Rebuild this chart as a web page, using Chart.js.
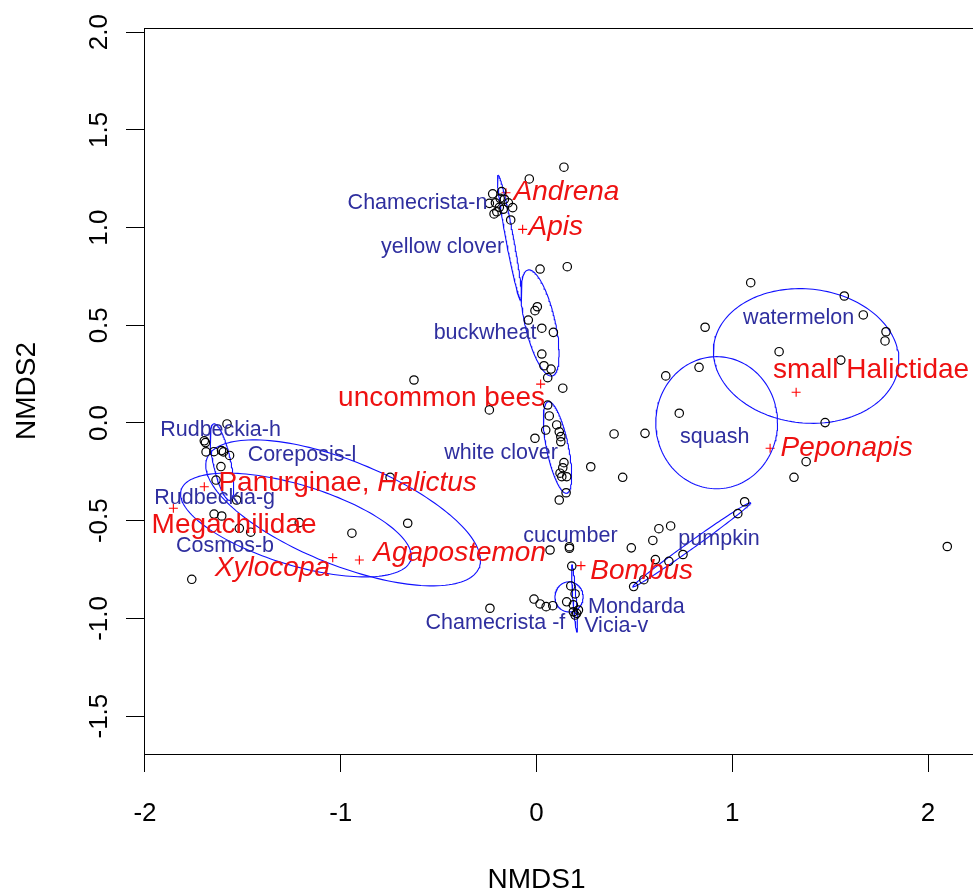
<!DOCTYPE html>
<html>
<head>
<meta charset="utf-8">
<script src="https://cdn.jsdelivr.net/npm/chart.js@4.4.1/dist/chart.umd.min.js"></script>
<style>
  html, body { margin: 0; padding: 0; overflow: hidden; background: #fff; width: 973px; height: 895px; }
  #wrap { width: 990px; height: 895px; }
</style>
</head>
<body>
<div id="wrap"><canvas id="c" width="990" height="895"></canvas></div>
<script>
// NMDS site scores (open circles)
const siteX = [0.140, -0.037, -0.224, -0.241, -0.210, -0.178, -0.186, -0.164, -0.144, -0.122, -0.203, -0.217, -0.190, -0.170, -0.132,
  0.018, 0.157, 0.004, -0.008, -0.042, 0.027, 0.086, 0.027, 0.038, 0.074, 0.057, 0.134, -0.241, -0.626,
  0.057, 0.065, 0.047, 0.103, 0.116, 0.124, 0.124, -0.008, 0.140, 0.134, 0.120, 0.154, 0.129, 0.277, 0.151, 0.116, 0.396, 0.554, 0.440,
  -1.581, -1.697, -1.691, -1.688, -1.648, -1.609, -1.599, -1.568, -1.612, -1.637, -1.532, -1.647, -1.608, -1.518, -1.460, -1.212, -0.943, -1.761, -0.748, -0.658,
  0.069, 0.168, 0.168, 0.180, 0.175, 0.197, -0.013, 0.018, 0.049, 0.083, 0.154, 0.188, -0.238, 0.188, 0.205, 0.214, 0.197,
  1.063, 1.028, 0.685, 0.625, 0.594, 0.484, 0.607, 0.676, 0.748, 0.548, 0.496, 2.098,
  1.094, 1.572, 1.669, 1.785, 1.780, 0.861, 1.239, 1.554, 0.830, 0.660, 0.729, 1.474, 1.377, 1.315];
const siteY = [1.309, 1.249, 1.173, 1.124, 1.127, 1.184, 1.150, 1.145, 1.127, 1.102, 1.081, 1.070, 1.104, 1.094, 1.039,
  0.788, 0.800, 0.595, 0.575, 0.527, 0.485, 0.464, 0.353, 0.293, 0.276, 0.232, 0.178, 0.067, 0.220,
  0.092, 0.036, -0.036, -0.010, -0.045, -0.070, -0.096, -0.078, -0.203, -0.229, -0.257, -0.275, -0.275, -0.224, -0.357, -0.394, -0.056, -0.053, -0.278,
  -0.005, -0.091, -0.100, -0.148, -0.147, -0.141, -0.148, -0.166, -0.223, -0.292, -0.394, -0.466, -0.476, -0.539, -0.559, -0.510, -0.564, -0.800, -0.278, -0.513,
  -0.650, -0.633, -0.641, -0.732, -0.834, -0.875, -0.901, -0.926, -0.940, -0.935, -0.915, -0.931, -0.948, -0.966, -0.974, -0.957, -0.983,
  -0.403, -0.464, -0.527, -0.541, -0.601, -0.639, -0.699, -0.708, -0.673, -0.802, -0.837, -0.632,
  0.718, 0.650, 0.553, 0.467, 0.420, 0.490, 0.365, 0.322, 0.285, 0.241, 0.050, 0.002, -0.198, -0.278];

// Bee group scores (red crosses) and where their names sit
const beeNames = ['Andrena', 'Apis', 'uncommon bees', 'small Halictidae', 'Peponapis', 'Panurginae, Halictus', 'Megachilidae', 'Xylocopa', 'Agapostemon', 'Bombus'];
const beeX = [-0.156, -0.071, 0.021, 1.326, 1.193, -1.697, -1.855, -1.041, -0.905, 0.227];
const beeY = [1.178, 0.991, 0.199, 0.157, -0.129, -0.326, -0.436, -0.689, -0.701, -0.730];
const beeLabelX = [0.153, 0.098, -0.485, 1.709, 1.584, -0.965, -1.545, -1.349, -0.393, 0.537];
const beeLabelY = [1.183, 1.001, 0.128, 0.271, -0.129, -0.306, -0.522, -0.744, -0.666, -0.760];

// Plant names
const plantNames = ['Chamecrista-n', 'yellow clover', 'buckwheat', 'white clover', 'Rudbeckia-h', 'Coreposis-l', 'Rudbeckia-g', 'Cosmos-b', 'cucumber', 'Chamecrista -f', 'Mondarda', 'Vicia-v', 'pumpkin', 'squash', 'watermelon'];
const plantLabelX = [-0.608, -0.480, -0.263, -0.181, -1.614, -1.198, -1.644, -1.591, 0.173, -0.210, 0.510, 0.407, 0.932, 0.910, 1.339];
const plantLabelY = [1.125, 0.898, 0.462, -0.155, -0.036, -0.164, -0.385, -0.632, -0.578, -1.022, -0.942, -1.038, -0.593, -0.072, 0.535];

// Dispersion ellipses per plant: centre, semi-axes, rotation (degrees)
const ellCX = [1.377, 0.920, 0.793, 0.166, 0.194, -0.138, 0.018, 0.107, -0.988, -1.229, -1.607];
const ellCY = [0.343, 0.0015, -0.623, -0.890, -0.898, 0.949, 0.512, -0.125, -0.460, -0.522, -0.200];
const ellA = [0.475, 0.311, 0.370, 0.072, 0.172, 0.324, 0.278, 0.239, 0.749, 0.613, 0.200];
const ellB = [0.343, 0.338, 0.018, 0.077, 0.008, 0.020, 0.077, 0.056, 0.266, 0.205, 0.045];
const ellAngle = [-6, 0, 35.6, 0, -85.7, -79.6, -77.2, -78.6, -22, -17, -78];

const xTicks = [-2, -1, 0, 1, 2];
const yTicks = [-1.5, -1.0, -0.5, 0.0, 0.5, 1.0, 1.5, 2.0];

const italicNames = new Set(['Andrena', 'Apis', 'Peponapis', 'Halictus', 'Xylocopa', 'Agapostemon', 'Bombus']);
const FONT = '"Liberation Sans", Arial, Helvetica, sans-serif';

function ellipsePoints(cx, cy, a, b, deg) {
  const t = deg * Math.PI / 180, pts = [];
  for (let i = 0; i <= 160; i++) {
    const u = i / 160 * 2 * Math.PI;
    const ex = a * Math.cos(u), ey = b * Math.sin(u);
    pts.push({ x: cx + ex * Math.cos(t) - ey * Math.sin(t), y: cy + ex * Math.sin(t) + ey * Math.cos(t) });
  }
  return pts;
}

const datasets = [];
datasets.push({
  label: 'sites',
  data: siteX.map((x, i) => ({ x, y: siteY[i] })),
  pointStyle: 'circle', pointRadius: 4.2, borderColor: '#000', backgroundColor: 'rgba(0,0,0,0)', borderWidth: 1.2, showLine: false
});
ellCX.forEach((cx, i) => {
  datasets.push({
    label: 'ellipse' + i,
    data: ellipsePoints(cx, ellCY[i], ellA[i], ellB[i], ellAngle[i]),
    showLine: true, pointRadius: 0, borderColor: '#1010ff', borderWidth: 1.1, fill: false, tension: 0
  });
});
datasets.push({
  label: 'bees',
  data: beeX.map((x, i) => ({ x, y: beeY[i] })),
  pointStyle: 'cross', pointRadius: 4.5, borderColor: '#ff0000', borderWidth: 1.1, showLine: false
});

function drawLabel(ctx, text, px, py, size, color) {
  const words = text.split(' ');
  const segs = words.map((w, i) => {
    const it = italicNames.has(w.replace(/[^A-Za-z]/g, ''));
    const s = i < words.length - 1 ? w + ' ' : w;
    const font = (it ? 'italic ' : '') + size + 'px ' + FONT;
    ctx.font = font;
    return { s, font, w: ctx.measureText(s).width };
  });
  const total = segs.reduce((a, g) => a + g.w, 0);
  let x = px - total / 2;
  ctx.textAlign = 'left';
  ctx.textBaseline = 'middle';
  ctx.fillStyle = color;
  for (const g of segs) { ctx.font = g.font; ctx.fillText(g.s, x, py); x += g.w; }
}

const annotate = {
  id: 'annotate',
  afterDraw(chart) {
    const { ctx, chartArea: a, scales: { x, y } } = chart;
    ctx.save();
    // plot frame
    ctx.strokeStyle = '#000'; ctx.lineWidth = 1;
    ctx.strokeRect(a.left + 0.5, a.top + 0.5, a.right - a.left, a.bottom - a.top);
    // rotated y tick labels
    ctx.fillStyle = '#000';
    ctx.font = '26px ' + FONT;
    ctx.textAlign = 'center'; ctx.textBaseline = 'middle';
    yTicks.forEach(v => {
      ctx.save();
      ctx.translate(100, y.getPixelForValue(v));
      ctx.rotate(-Math.PI / 2);
      ctx.fillText(v.toFixed(1), 0, 0);
      ctx.restore();
    });
    // axis titles
    ctx.font = '28px ' + FONT;
    ctx.fillText('NMDS1', x.getPixelForValue(0), 880);
    ctx.save();
    ctx.translate(27, (a.top + a.bottom) / 2);
    ctx.rotate(-Math.PI / 2);
    ctx.fillText('NMDS2', 0, 0);
    ctx.restore();
    // plant names
    plantNames.forEach((n, i) => drawLabel(ctx, n, x.getPixelForValue(plantLabelX[i]), y.getPixelForValue(plantLabelY[i]), 21.5, '#2f2f9f'));
    // bee group names
    beeNames.forEach((n, i) => drawLabel(ctx, n, x.getPixelForValue(beeLabelX[i]), y.getPixelForValue(beeLabelY[i]), 28, '#ee1111'));
    ctx.restore();
  }
};

new Chart(document.getElementById('c'), {
  type: 'scatter',
  data: { datasets },
  plugins: [annotate],
  options: {
    responsive: false,
    animation: false,
    events: [],
    layout: { padding: { left: 0, top: 28, right: 11, bottom: 0 } },
    plugins: { legend: { display: false }, tooltip: { enabled: false } },
    scales: {
      x: {
        type: 'linear', min: -2.005, max: 2.26,
        afterBuildTicks: s => { s.ticks = xTicks.map(v => ({ value: v })); },
        afterFit: s => { s.height = 141; },
        grid: { drawOnChartArea: false, drawTicks: true, tickLength: 18, tickColor: '#000', color: '#000' },
        border: { display: true, color: '#000', width: 1 },
        ticks: { color: '#000', padding: 26, font: { family: FONT, size: 26 }, maxRotation: 0, callback: v => String(v) }
      },
      y: {
        type: 'linear', min: -1.694, max: 2.0215,
        afterBuildTicks: s => { s.ticks = yTicks.map(v => ({ value: v })); },
        afterFit: s => { s.width = 144; },
        grid: { drawOnChartArea: false, drawTicks: true, tickLength: 18, tickColor: '#000', color: '#000' },
        border: { display: true, color: '#000', width: 1 },
        ticks: { callback: () => '' }
      }
    }
  }
});
</script>
</body>
</html>
